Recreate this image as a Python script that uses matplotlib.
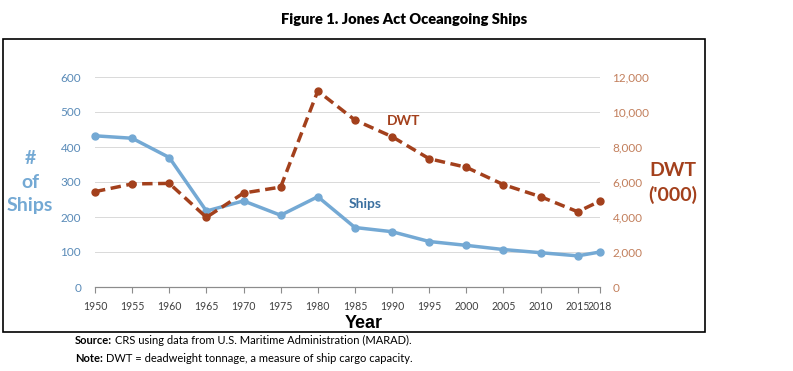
import matplotlib.pyplot as plt
from matplotlib.patches import Rectangle
from matplotlib.transforms import ScaledTranslation

years = [1950, 1955, 1960, 1965, 1970, 1975, 1980, 1985, 1990, 1995, 2000, 2005, 2010, 2015, 2018]
ships = [432, 425, 370, 217, 246, 205, 258, 170, 158, 130, 119, 107, 98, 89, 100]
dwt = [5450, 5890, 5920, 3980, 5370, 5710, 11200, 9540, 8590, 7330, 6840, 5850, 5160, 4300, 4910]

ships_ticks = [0, 100, 200, 300, 400, 500, 600]
dwt_ticks = [0, 2000, 4000, 6000, 8000, 10000, 12000]

ship_col = "#74a9d4"
dwt_col = "#a3401c"
plt.rcParams['font.family'] = ['Lato', 'DejaVu Sans']

fig = plt.figure(figsize=(7.93, 3.71), dpi=100)
ax = fig.add_axes([95/793, 1 - 287/371, 505/793, 210/371])
ax2 = ax.twinx()

ax.plot(years, ships, color=ship_col, linewidth=2.5, marker='o', markersize=5, clip_on=False, zorder=3)
ax2.plot(years, dwt, color=dwt_col, linewidth=2.5, linestyle=(0, (3, 1.6)), marker='o', markersize=5, clip_on=False, zorder=3)

ax.set_xlim(1950, 2018)
ax.set_ylim(0, 600)
ax2.set_ylim(0, 12000)
ax.set_xticks(years)
ax.set_xticklabels([str(y) for y in years], fontsize=7.6, color="#404040")
# last two labels sit very close, push them apart a little
labs = ax.get_xticklabels()
labs[-1].set_transform(labs[-1].get_transform() + ScaledTranslation(3/100, 0, fig.dpi_scale_trans))
labs[-2].set_transform(labs[-2].get_transform() + ScaledTranslation(-1/100, 0, fig.dpi_scale_trans))
ax.set_yticks(ships_ticks)
ax.set_yticklabels([str(v) for v in ships_ticks], fontsize=8.5, color="#5a8bb8")
ax2.set_yticks(dwt_ticks)
ax2.set_yticklabels([f"{v:,}" for v in dwt_ticks], fontsize=8.5, color="#c27f5c")

ax.grid(True, axis='y', color="#d9d9d9", linewidth=0.7)
ax.set_axisbelow(True)
for a in (ax, ax2):
    for s in ('top', 'left', 'right'):
        a.spines[s].set_visible(False)
    a.spines['bottom'].set_color("#8c8c8c")
ax.tick_params(axis='x', direction='out', length=4, color="#8c8c8c", pad=6)
ax.tick_params(axis='y', length=0, pad=10)
ax2.tick_params(axis='y', length=0, pad=9)

ax.text(1984.2, 237, "Ships", color="#3b70a0", fontsize=10, fontweight='bold', va='center')
ax2.text(1989.3, 9490, "DWT", color=dwt_col, fontsize=10, fontweight='bold', va='center')

fig.text(30/793, 1 - 182/371, "#\nof\nShips", color=ship_col, fontsize=14, fontweight='bold',
         ha='center', va='center', linespacing=1.45)
fig.text(673/793, 1 - 183/371, "DWT\n('000)", color=dwt_col, fontsize=14, fontweight='bold',
         ha='center', va='center', linespacing=1.45)
fig.text(364/793, 1 - 323/371, "Year", color="black", fontsize=13, fontweight='bold',
         ha='center', va='center', family=['Liberation Sans', 'DejaVu Sans'])

fig.text(404/793, 1 - 20/371, "Figure 1. Jones Act Oceangoing Ships", fontsize=10.5, fontweight='heavy',
         ha='center', va='center')

fig.patches.append(Rectangle((3/793, 1 - 332/371), 702/793, 293/371, transform=fig.transFigure,
                             fill=False, edgecolor='black', linewidth=1.2))

# footnotes: bold lead-in followed by plain text
renderer = fig.canvas.get_renderer()
for y, lead, rest in [(340, "Source:", "CRS using data from U.S. Maritime Administration (MARAD)."),
                      (358, "Note:", "DWT = deadweight tonnage, a measure of ship cargo capacity.")]:
    t = fig.text(75/793, 1 - y/371, lead, fontsize=8, fontweight='bold', va='center')
    bb = t.get_window_extent(renderer)
    fig.text((bb.x1 + 3)/793, 1 - y/371, rest, fontsize=8, va='center')

fig.savefig("out.png", dpi=100)
